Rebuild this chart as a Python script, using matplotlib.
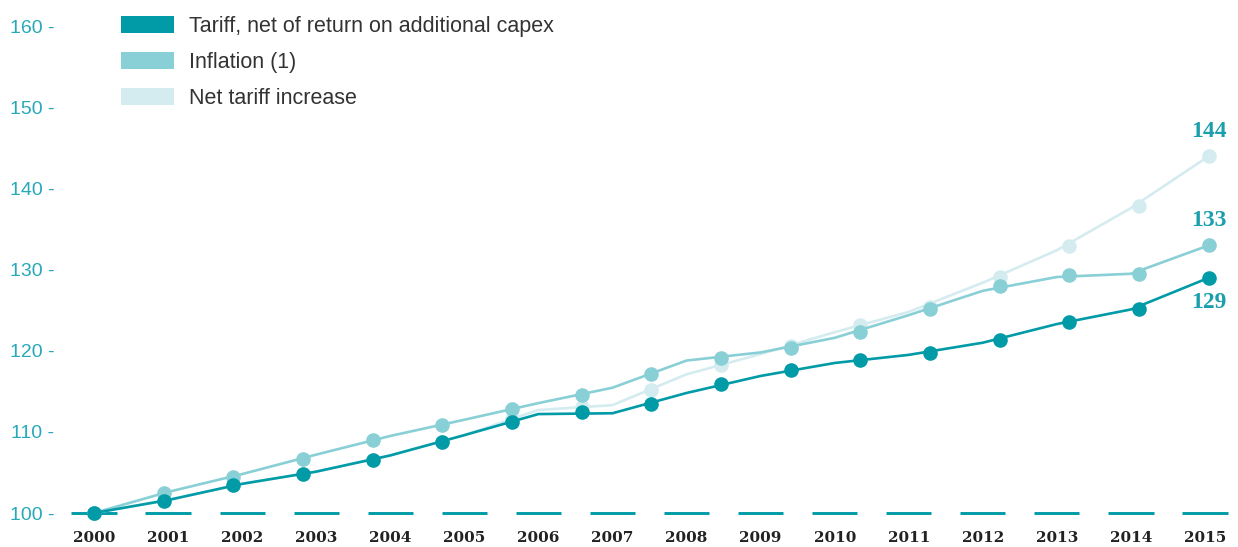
import numpy as np
import matplotlib
matplotlib.use("Agg")
import matplotlib.pyplot as plt
from matplotlib.patches import Patch

# ---- data -------------------------------------------------------------
years = list(range(2000, 2016))

# line vertices, one per year
tariff_line = [100, 101.6, 103.6, 105.1, 107.1, 109.6, 112.2, 112.3, 114.8,
               116.9, 118.5, 119.5, 121.0, 123.3, 125.1, 129]
inflation_line = [100, 102.6, 104.8, 107.2, 109.5, 111.5, 113.55, 115.45, 118.8,
                  119.8, 121.6, 124.4, 127.4, 129.1, 129.5, 133]
net_line = [100, 101.6, 103.6, 105.1, 107.1, 109.6, 112.7, 113.3, 117.1,
            119.6, 122.3, 124.8, 128.4, 132.4, 137.6, 144]

# dot markers, evenly spread along the period
tariff_pts = [100, 101.5, 103.4, 104.8, 106.5, 108.75, 111.2, 112.4, 113.5,
              115.9, 117.6, 118.9, 119.7, 121.3, 123.6, 125.2, 129]
inflation_pts = [100, 102.5, 104.5, 106.7, 109.0, 110.85, 112.8, 114.5, 117.1,
                 119.1, 120.3, 122.3, 125.2, 128.0, 129.3, 129.5, 133]
net_pts = [100, 101.5, 103.4, 104.8, 106.5, 108.75, 111.6, 113.1, 115.2,
           118.2, 120.6, 123.2, 125.4, 129.1, 132.9, 137.9, 144]

series_names = ["Tariff, net of return on additional capex",
                "Inflation (1)",
                "Net tariff increase"]
y_ticks = [100, 110, 120, 130, 140, 150, 160]
base_value = 100

# ---- style ------------------------------------------------------------
C_DARK = "#009ba7"
C_MID = "#89cfd6"
C_LIGHT = "#d4ecf0"
C_TICK = "#27a9b9"
C_LABEL = "#1c9fad"

fig = plt.figure(figsize=(12.38, 5.47), dpi=100)
ax = fig.add_axes([0.046, 0.0399, 0.9543, 0.9415])
ax.set_xlim(1999.5, 2015.45)
ax.set_ylim(98.5, 162)

marker_pos = np.linspace(years[0], years[-1] + 0.05, len(tariff_pts))

# baseline drawn as short dashes centred on each year
yrs = np.array(years, dtype=float)
ax.hlines([base_value] * len(yrs), yrs - 0.305, yrs + 0.305,
          color=C_DARK, lw=2.1, zorder=1)

series = [
    (net_line, net_pts, C_LIGHT, 2),
    (inflation_line, inflation_pts, C_MID, 3),
    (tariff_line, tariff_pts, C_DARK, 4),
]
line_x = list(yrs[:-1]) + [marker_pos[-1]]
for line_vals, pts, col, z in series:
    ax.plot(line_x, line_vals, color=col, lw=1.9, zorder=z,
            solid_joinstyle="round")
    ax.plot(marker_pos, pts, "o", color=col, ms=10.5, mec="none", zorder=z)

# end-value labels
end_offsets = [(net_pts, 18), (inflation_pts, 18), (tariff_pts, -18)]
for pts, dy in end_offsets:
    ax.annotate(f"{pts[-1]:.0f}", xy=(marker_pos[-1], pts[-1]),
                xytext=(0, dy), textcoords="offset points",
                ha="center", va="center", fontsize=17, fontweight="bold",
                family="Liberation Serif", color=C_LABEL)

# axes cosmetics
for sp in ax.spines.values():
    sp.set_visible(False)
ax.set_yticks(y_ticks)
ax.set_yticklabels([f"{v} -" for v in y_ticks])
ax.set_xticks(years)
ax.set_xticklabels([str(y) for y in years])
ax.tick_params(axis="y", length=0, pad=2, labelsize=14, labelcolor=C_TICK)
ax.tick_params(axis="x", length=0, pad=4, labelsize=11, labelcolor="#222222")
for lab in ax.get_yticklabels():
    lab.set_family("Liberation Sans")
for lab in ax.get_xticklabels():
    lab.set_family("DejaVu Serif")
    lab.set_fontweight("bold")

# legend
handles = [Patch(facecolor=c, edgecolor="none") for c in (C_DARK, C_MID, C_LIGHT)]
leg = fig.legend(handles, series_names, loc="upper left",
                 bbox_to_anchor=(121 / 1238, 1 - 16 / 547),
                 frameon=False, borderpad=0, borderaxespad=0,
                 handlelength=2.45, handleheight=0.8, handletextpad=0.7,
                 labelspacing=0.70,
                 prop={"family": "Liberation Sans", "size": 15.5})
for t in leg.get_texts():
    t.set_color("#333333")

fig.savefig("out.png", dpi=100)
